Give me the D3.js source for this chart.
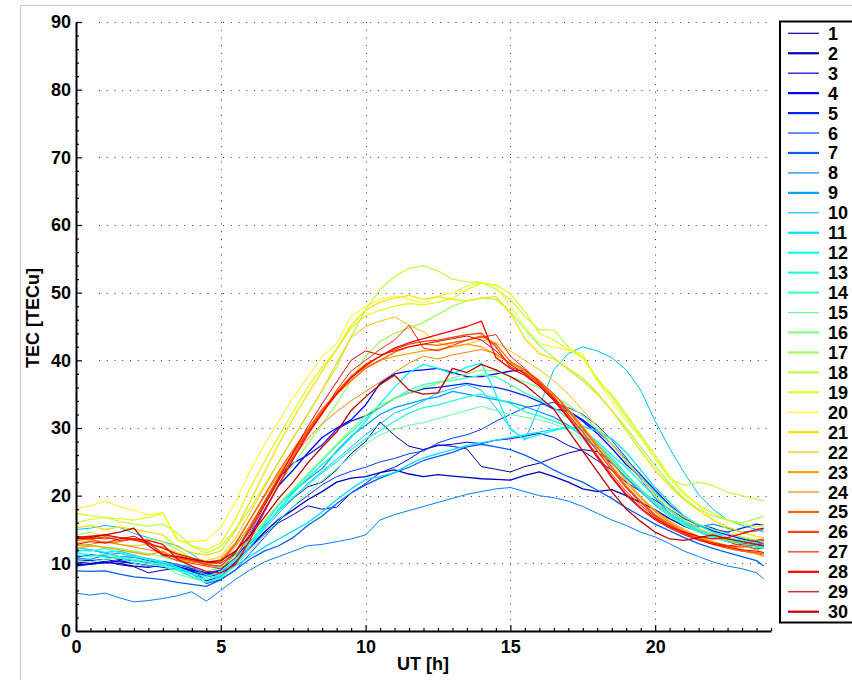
<!DOCTYPE html>
<html lang="en">
<head>
<meta charset="UTF-8">
<title>TEC</title>
<script src="https://d3js.org/d3.v7.min.js"></script>
<style>
    body { margin: 0; padding: 0; background: #fff; }
    svg { display: block; }
    .tick text, .lab, .leg text {
        font-family: "Liberation Sans", Arial, sans-serif;
        font-weight: bold;
        font-size: 18px;
        fill: #000;
    }
    .grid line { stroke: #333; stroke-width: 1; stroke-dasharray: 1, 6.75; }
    .domain { stroke: #000; stroke-width: 2; }
</style>
</head>
<body>
<svg width="852" height="680"></svg>
<script>
// UT hours
var hours = [0, 0.5, 1, 1.5, 2, 2.5, 3, 3.5, 4, 4.5, 5, 5.5, 6, 6.5, 7, 7.5, 8, 8.5, 9, 9.5,
    10, 10.5, 11, 11.5, 12, 12.5, 13, 13.5, 14, 14.5, 15, 15.5, 16, 16.5, 17, 17.5, 18, 18.5, 19, 19.5,
    20, 20.5, 21, 21.5, 22, 22.5, 23, 23.5, 23.75];

// TEC per day [TECu]
var d1 = [10.2, 10.0, 10.3, 9.8, 9.5, 8.6, 9.0, 9.3, 8.8, 8.2, 9.0, 10.8, 13.2, 15.5, 17.8, 19.6, 21.3, 22.0, 23.8, 26.2,
    28.0, 30.9, 28.9, 27.3, 26.8, 27.5, 27.3, 26.9, 24.3, 23.9, 23.5, 24.3, 24.8, 25.6, 26.3, 26.8, 26.5, 24.8, 22.6, 20.8,
    19.0, 17.4, 16.0, 14.8, 13.9, 13.2, 12.6, 12.1, 12.3];
var d2 = [9.8, 9.9, 10.1, 10.0, 9.6, 9.4, 9.8, 9.5, 9.0, 8.5, 8.7, 10.2, 12.4, 14.6, 16.5, 17.9, 19.4, 20.6, 22.0, 22.6,
    22.8, 23.4, 23.8, 23.2, 22.8, 23.1, 22.9, 22.7, 22.5, 22.4, 22.3, 23.0, 23.5, 22.8, 22.0, 21.0, 20.6, 20.9, 20.0, 19.0,
    17.9, 16.6, 15.5, 14.7, 14.0, 13.3, 12.8, 12.5, 12.7];
var d3v = [10.5, 10.4, 10.6, 10.2, 10.0, 9.7, 9.4, 9.1, 8.7, 8.0, 8.4, 10.0, 12.2, 14.3, 16.0, 17.2, 18.5, 18.0, 18.3, 20.4,
    21.8, 23.4, 24.2, 25.4, 26.8, 27.4, 27.6, 27.9, 27.7, 28.2, 28.4, 28.8, 29.2, 28.6, 27.4, 26.6, 25.2, 23.8, 22.0, 20.6,
    19.3, 18.0, 16.6, 15.7, 15.2, 14.4, 13.8, 13.2, 13.4];
var d4 = [9.6, 9.9, 10.1, 10.4, 10.0, 9.6, 9.9, 9.4, 9.0, 7.4, 8.0, 10.3, 14.0, 17.8, 21.5, 23.8, 26.3, 28.6, 30.0, 31.2,
    33.4, 36.6, 38.0, 38.4, 38.6, 38.8, 38.2, 37.6, 37.6, 38.0, 38.4, 38.6, 36.5, 34.2, 32.6, 31.0, 29.2, 27.0, 24.6, 22.8,
    20.4, 18.5, 16.8, 15.6, 14.8, 14.2, 13.6, 13.0, 12.8];
var d5 = [10.9, 11.3, 11.0, 10.6, 10.4, 10.1, 10.3, 9.8, 9.2, 8.6, 9.0, 11.5, 15.2, 19.0, 22.6, 24.8, 26.0, 27.5, 29.8, 31.0,
    31.8, 33.0, 34.4, 35.2, 35.8, 36.0, 36.3, 36.6, 36.2, 36.0, 35.5, 34.8, 33.9, 32.8, 32.5, 31.2, 29.6, 27.6, 25.3, 23.1,
    20.8, 18.6, 16.9, 15.7, 15.0, 14.6, 15.2, 15.8, 15.6];
var d6 = [11.8, 12.0, 11.5, 11.0, 10.9, 10.4, 10.0, 9.6, 8.5, 7.0, 7.6, 9.0, 11.4, 13.8, 16.2, 18.4, 20.0, 21.6, 22.8, 23.6,
    24.2, 25.0, 25.5, 26.2, 26.6, 27.8, 28.5, 29.0, 29.8, 31.0, 32.0, 33.0, 33.4, 33.8, 33.0, 32.0, 30.4, 28.2, 25.6, 22.4,
    19.6, 17.4, 15.8, 14.8, 14.0, 13.6, 13.4, 13.0, 13.2];
var d7 = [8.9, 8.8, 8.9, 8.4, 8.0, 7.8, 7.6, 7.2, 6.9, 6.6, 7.6, 9.0, 10.6, 11.8, 12.6, 13.8, 15.6, 17.0, 18.8, 20.4,
    21.6, 22.6, 23.4, 24.2, 25.2, 25.8, 26.4, 27.2, 27.6, 27.2, 26.8, 26.0, 25.0, 23.8, 22.8, 22.0, 20.8, 19.6, 18.2, 17.0,
    15.8, 14.8, 13.8, 12.9, 12.2, 11.6, 11.0, 10.4, 9.6];
var d8 = [5.6, 5.3, 5.6, 4.9, 4.3, 4.5, 4.8, 5.2, 5.8, 4.4, 6.0, 7.6, 9.0, 10.2, 11.0, 11.8, 12.6, 12.8, 13.2, 13.6,
    14.2, 16.4, 17.2, 17.8, 18.4, 19.0, 19.6, 20.2, 20.6, 21.0, 21.2, 20.6, 20.0, 19.7, 19.2, 18.4, 17.4, 16.4, 15.6, 14.6,
    13.9, 12.9, 11.8, 11.0, 10.2, 9.6, 9.2, 8.6, 7.7];
var d9 = [10.8, 10.6, 11.2, 11.5, 11.0, 10.7, 10.2, 9.8, 9.5, 8.2, 8.6, 10.4, 13.0, 15.8, 18.6, 20.6, 22.4, 24.0, 26.6, 28.8,
    30.4, 32.0, 33.0, 33.6, 34.2, 34.6, 35.4, 35.0, 34.6, 34.2, 33.8, 33.2, 32.4, 31.6, 30.4, 28.8, 27.0, 25.0, 22.6, 20.6,
    18.6, 17.0, 16.0, 15.4, 15.8, 15.2, 14.6, 14.8, 15.0];
var d10 = [15.0, 15.2, 15.6, 15.3, 14.4, 13.8, 13.2, 12.6, 11.4, 9.8, 9.4, 10.6, 12.8, 15.0, 17.4, 19.6, 21.8, 23.6, 25.4, 27.2,
    29.0, 30.6, 32.2, 33.0, 34.0, 35.2, 35.8, 36.4, 35.6, 33.0, 30.0, 28.2, 33.2, 38.6, 41.0, 42.0, 41.4, 40.4, 38.6, 35.6,
    31.0, 27.0, 23.4, 20.2, 18.0, 16.4, 15.6, 15.0, 14.6];
var d11 = [12.4, 12.0, 11.6, 11.8, 11.2, 10.6, 10.0, 9.2, 8.4, 7.6, 8.2, 9.6, 11.0, 12.4, 13.6, 14.8, 16.0, 17.6, 19.4, 21.0,
    22.4, 22.8, 23.4, 24.6, 25.6, 26.2, 26.8, 27.4, 27.8, 28.2, 28.6, 29.0, 29.4, 29.8, 30.0, 30.2, 29.6, 28.4, 26.4, 23.8,
    21.2, 19.0, 17.0, 15.6, 14.6, 13.8, 13.0, 12.4, 12.2];
var d12 = [11.6, 11.2, 11.0, 10.8, 10.4, 10.0, 9.6, 9.0, 8.0, 7.2, 7.8, 9.8, 12.4, 15.2, 18.0, 20.4, 22.6, 24.6, 26.4, 28.6,
    31.0, 33.6, 36.0, 38.2, 39.4, 38.8, 38.0, 39.0, 39.6, 35.0, 29.8, 28.4, 29.0, 29.6, 30.2, 29.6, 28.0, 26.0, 24.2, 22.0,
    19.8, 17.8, 16.2, 15.0, 14.2, 13.6, 13.4, 13.0, 12.8];
var d13 = [12.0, 11.8, 12.2, 11.6, 11.0, 10.6, 10.2, 9.4, 8.6, 8.0, 8.8, 10.6, 13.0, 15.4, 17.8, 19.8, 21.6, 23.4, 25.0, 26.8,
    28.4, 29.6, 31.0, 32.2, 33.0, 33.4, 34.0, 34.6, 35.0, 34.4, 33.6, 32.4, 31.8, 31.0, 30.2, 29.0, 27.6, 25.6, 23.2, 21.0,
    19.0, 17.2, 15.8, 14.8, 14.0, 13.4, 13.0, 12.6, 12.4];
var d14 = [11.2, 11.0, 11.4, 11.0, 10.6, 10.2, 9.8, 9.2, 8.0, 7.6, 8.4, 10.4, 13.0, 15.8, 18.6, 20.8, 23.0, 25.2, 27.4, 29.4,
    31.4, 33.0, 34.4, 35.6, 36.4, 36.8, 37.0, 37.4, 37.8, 37.6, 36.4, 35.2, 34.2, 33.0, 31.4, 29.6, 27.6, 25.4, 23.0, 20.8,
    18.8, 17.0, 15.6, 14.6, 13.8, 13.2, 12.8, 12.4, 12.2];
var d15 = [10.4, 10.2, 10.6, 10.8, 10.0, 9.6, 9.8, 8.4, 7.8, 7.2, 8.0, 9.6, 11.8, 14.0, 16.4, 18.4, 20.4, 22.2, 24.0, 25.8,
    27.6, 29.0, 29.8, 30.4, 30.8, 31.4, 32.0, 32.6, 33.2, 32.6, 32.0, 31.6, 31.2, 30.6, 29.6, 28.4, 27.0, 25.2, 23.0, 21.0,
    19.0, 17.4, 16.0, 15.0, 14.4, 13.8, 13.4, 13.0, 12.8];
var d16 = [12.8, 12.6, 12.4, 12.2, 11.8, 11.4, 11.0, 10.4, 9.6, 8.8, 9.4, 11.2, 13.6, 16.2, 18.8, 21.0, 23.2, 25.4, 27.6, 29.8,
    31.8, 33.4, 34.4, 35.2, 36.0, 36.6, 37.4, 38.0, 38.6, 38.4, 37.6, 36.8, 36.0, 34.8, 33.4, 31.8, 29.8, 27.6, 25.2, 22.8,
    20.4, 18.4, 16.8, 15.8, 15.0, 14.4, 13.8, 13.4, 13.2];
var d17 = [14.2, 14.6, 14.0, 13.8, 13.4, 13.6, 13.2, 12.0, 10.8, 9.6, 10.4, 12.6, 15.4, 18.6, 21.8, 24.6, 27.6, 30.6, 33.6, 37.0,
    40.6, 42.8, 44.0, 44.8, 45.6, 46.8, 48.0, 48.8, 49.2, 49.0, 47.2, 44.6, 42.2, 40.4, 38.6, 37.0, 35.0, 32.6, 30.0, 27.2,
    24.4, 21.8, 19.6, 18.0, 17.0, 16.4, 16.0, 16.6, 17.0];
var d18 = [16.0, 16.5, 16.8, 16.2, 15.8, 15.5, 15.8, 14.5, 12.5, 11.5, 12.5, 15.0, 18.0, 21.5, 25.0, 28.5, 32.0, 35.5, 39.0, 43.5,
    47.5, 50.5, 52.4, 53.6, 54.0, 53.2, 52.0, 51.6, 51.5, 50.5, 49.0, 46.5, 44.5, 44.5, 42.0, 40.5, 37.0, 35.0, 32.0, 29.0,
    26.0, 22.5, 21.5, 22.0, 21.5, 20.5, 20.0, 19.5, 19.2];
var d19 = [17.4, 17.0, 16.8, 16.6, 16.4, 16.8, 17.4, 13.6, 12.6, 12.0, 13.0, 16.5, 21.0, 25.0, 28.8, 32.4, 36.0, 39.0, 41.6, 44.8,
    46.6, 47.4, 48.0, 48.4, 48.2, 48.6, 49.2, 50.4, 51.4, 51.2, 49.8, 47.2, 44.0, 43.0, 41.6, 40.4, 37.4, 34.6, 31.6, 28.6,
    25.4, 22.6, 20.2, 18.6, 17.4, 16.4, 15.8, 15.4, 15.6];
var d20 = [18.1, 18.5, 19.2, 18.4, 17.8, 17.2, 17.5, 13.3, 13.2, 13.4, 15.3, 19.0, 23.5, 27.5, 31.0, 34.5, 37.5, 40.5, 42.5, 46.5,
    48.0, 49.0, 49.5, 49.0, 48.5, 49.5, 50.0, 51.0, 51.5, 51.0, 48.0, 45.0, 42.5, 42.0, 41.5, 41.0, 37.0, 34.0, 31.0, 28.5,
    26.0, 23.0, 20.5, 18.5, 16.5, 15.0, 14.0, 13.5, 13.5];
var d21 = [15.2, 15.6, 15.0, 15.4, 15.0, 14.6, 14.2, 12.4, 11.6, 11.2, 11.8, 14.8, 19.0, 23.4, 27.6, 31.4, 35.0, 38.4, 41.6, 45.2,
    47.4, 48.6, 49.2, 49.6, 49.0, 49.4, 49.0, 48.8, 49.2, 49.4, 47.0, 43.2, 41.0, 40.2, 38.8, 37.4, 35.2, 32.6, 29.6, 26.6,
    23.8, 21.4, 19.4, 17.8, 16.4, 15.4, 14.6, 14.0, 13.8];
var d22 = [13.0, 13.4, 13.2, 12.8, 12.6, 12.8, 12.4, 11.6, 10.8, 10.4, 11.0, 13.6, 17.4, 21.2, 25.0, 28.6, 32.0, 35.6, 39.6, 43.4,
    45.0, 45.8, 46.4, 45.2, 44.2, 42.6, 42.0, 42.4, 43.0, 42.6, 41.4, 40.0, 38.6, 37.0, 35.0, 32.6, 30.2, 27.6, 25.0, 22.4,
    20.0, 18.0, 16.4, 15.2, 14.2, 13.4, 12.6, 12.0, 11.6];
var d23 = [12.2, 12.6, 12.4, 12.0, 11.6, 11.2, 11.8, 10.6, 10.2, 10.0, 10.6, 13.0, 16.4, 19.8, 23.2, 26.4, 29.6, 32.6, 35.4, 37.6,
    39.0, 40.0, 40.6, 41.0, 41.4, 41.6, 42.0, 42.4, 42.0, 40.8, 39.6, 38.4, 36.8, 35.0, 32.8, 30.2, 27.6, 25.0, 22.2, 19.8,
    17.8, 16.2, 15.0, 14.0, 13.2, 12.6, 12.0, 11.4, 11.2];
var d24 = [12.6, 12.8, 13.2, 12.8, 12.4, 12.0, 11.6, 10.8, 10.4, 9.8, 10.2, 12.4, 15.6, 19.0, 22.4, 25.6, 28.4, 30.6, 32.4, 34.0,
    35.4, 36.8, 38.2, 39.6, 40.6, 40.2, 40.8, 41.2, 41.6, 41.0, 39.4, 38.0, 36.4, 34.4, 32.4, 29.8, 27.2, 24.4, 21.8, 19.6,
    17.6, 16.0, 14.8, 13.8, 13.0, 12.4, 11.8, 11.4, 11.0];
var d25 = [13.4, 13.6, 13.0, 13.2, 13.6, 12.8, 12.4, 11.2, 10.6, 10.0, 10.2, 12.8, 16.4, 20.0, 23.6, 26.8, 29.8, 32.8, 35.0, 37.0,
    38.8, 40.0, 41.2, 42.0, 42.4, 42.2, 42.6, 43.0, 43.6, 42.4, 39.8, 38.6, 37.0, 35.0, 32.6, 30.0, 27.2, 24.2, 21.4, 19.2,
    17.2, 15.8, 14.6, 13.6, 12.8, 12.2, 11.8, 11.6, 11.4];
var d26 = [13.8, 13.6, 13.9, 13.4, 13.6, 13.2, 11.4, 10.8, 10.4, 9.8, 9.6, 11.6, 15.2, 19.0, 22.8, 26.2, 29.4, 32.4, 35.2, 37.6,
    39.4, 40.6, 41.6, 42.4, 42.8, 43.0, 43.4, 43.8, 44.0, 42.0, 39.0, 38.2, 36.6, 34.6, 32.0, 29.4, 26.6, 23.8, 21.2, 19.0,
    17.0, 15.6, 14.4, 13.6, 13.0, 12.6, 12.4, 12.8, 13.0];
var d27 = [14.0, 13.8, 13.6, 13.8, 13.4, 13.0, 11.2, 10.4, 10.0, 9.6, 9.2, 10.8, 14.4, 18.4, 22.2, 25.8, 29.2, 32.0, 35.6, 38.4,
    40.0, 41.6, 43.0, 45.2, 41.8, 41.4, 42.2, 43.0, 43.4, 43.8, 40.6, 38.8, 36.8, 34.4, 31.6, 28.8, 26.0, 23.2, 20.6, 18.6,
    16.8, 15.4, 14.4, 13.6, 13.0, 12.6, 12.8, 13.4, 13.6];
var d28 = [13.8, 14.0, 14.2, 13.8, 13.6, 13.4, 12.8, 10.6, 9.6, 8.8, 8.6, 9.8, 13.4, 17.6, 21.6, 25.4, 29.0, 32.2, 35.0, 37.4,
    39.2, 40.6, 41.8, 42.6, 43.2, 43.8, 44.4, 45.0, 45.8, 40.4, 38.8, 37.8, 36.2, 34.2, 31.6, 28.8, 25.8, 22.8, 20.2, 18.2,
    16.6, 15.4, 14.6, 14.0, 13.6, 13.8, 14.4, 15.0, 15.2];
var d29 = [12.8, 13.2, 13.0, 13.6, 14.0, 13.0, 12.2, 11.4, 10.8, 10.2, 10.0, 11.6, 14.8, 18.6, 22.4, 26.4, 30.2, 33.6, 36.8, 40.0,
    41.4, 40.8, 41.4, 42.0, 42.4, 42.8, 43.2, 43.6, 43.0, 41.4, 39.4, 38.0, 36.2, 34.0, 31.4, 28.6, 25.6, 22.6, 20.0, 18.0,
    16.4, 15.2, 14.2, 13.4, 12.8, 12.4, 12.0, 11.8, 11.6];
var d30 = [13.6, 13.8, 14.2, 14.6, 15.2, 12.6, 11.2, 11.0, 10.6, 10.2, 10.4, 11.8, 14.0, 16.8, 19.6, 22.0, 24.8, 27.2, 29.4, 32.6,
    34.6, 36.4, 37.8, 35.6, 35.0, 35.2, 38.8, 38.2, 39.4, 38.6, 37.6, 36.4, 34.6, 32.8, 29.6, 26.6, 23.6, 20.6, 18.0, 16.2,
    14.6, 13.6, 13.4, 13.8, 14.2, 13.6, 13.2, 12.8, 12.6];

var days = [d1, d2, d3v, d4, d5, d6, d7, d8, d9, d10, d11, d12, d13, d14, d15,
    d16, d17, d18, d19, d20, d21, d22, d23, d24, d25, d26, d27, d28, d29, d30];
var dayLabels = ["1", "2", "3", "4", "5", "6", "7", "8", "9", "10", "11", "12", "13", "14", "15",
    "16", "17", "18", "19", "20", "21", "22", "23", "24", "25", "26", "27", "28", "29", "30"];

// jet(30)
var jet = ["#0000a0", "#0000bf", "#0000df", "#0000ff", "#0020ff", "#0040ff", "#0060ff", "#0080ff", "#00a0ff", "#00bfff",
    "#00dfff", "#00ffff", "#20ffdf", "#40ffbf", "#60ffa0", "#80ff80", "#a0ff60", "#bfff40", "#dfff20", "#ffff00",
    "#ffdf00", "#ffbf00", "#ffa000", "#ff8000", "#ff6000", "#ff4000", "#ff2000", "#ff0000", "#df0000", "#bf0000"];
var lineW = [1, 2, 1, 2, 2, 1, 2, 1, 2, 1, 2, 2, 2, 2, 1, 2, 2, 2, 2, 1, 2, 1, 2, 1, 2, 2, 1, 2, 1, 2];

var xTicks = [0, 5, 10, 15, 20];
var yTicks = [0, 10, 20, 30, 40, 50, 60, 70, 80, 90];

var svg = d3.select("svg");

// figure frame
svg.append("line").attr("x1", 20.5).attr("x2", 20.5).attr("y1", 5).attr("y2", 680).attr("stroke", "#c8c8c8");
svg.append("line").attr("x1", 20).attr("x2", 852).attr("y1", 5.5).attr("y2", 5.5).attr("stroke", "#c8c8c8");

var x = d3.scaleLinear().domain([0, 24]).range([76, 771]);
var y = d3.scaleLinear().domain([0, 90]).range([631, 22]);

// dotted grid
var grid = svg.append("g").attr("class", "grid");
grid.selectAll(".gy").data(yTicks.slice(1)).enter().append("line")
    .attr("x1", x(0) + 23).attr("x2", x(24))
    .attr("y1", function(d) { return Math.round(y(d)) + 0.5; })
    .attr("y2", function(d) { return Math.round(y(d)) + 0.5; });
grid.selectAll(".gx").data(xTicks.slice(1)).enter().append("line")
    .attr("y1", y(90)).attr("y2", y(0))
    .attr("x1", function(d) { return Math.round(x(d)) + 0.5; })
    .attr("x2", function(d) { return Math.round(x(d)) + 0.5; });

// curves
var line = d3.line()
    .x(function(d, i) { return x(hours[i]); })
    .y(function(d) { return y(d); });

svg.append("g").selectAll("path").data(days).enter().append("path")
    .attr("d", line)
    .attr("fill", "none")
    .attr("stroke", function(d, i) { return jet[i]; })
    .attr("stroke-width", function(d, i) { return lineW[i] == 2 ? 1.3 : 1; })
    .attr("stroke-linejoin", "round");

// axes
svg.append("g").attr("transform", "translate(76,0)")
    .call(d3.axisLeft(y).tickValues(yTicks).tickSizeInner(-6).tickSizeOuter(0).tickPadding(5));
svg.append("g").attr("transform", "translate(76,0)")
    .call(d3.axisLeft(y).tickValues(d3.range(2, 90, 2).filter(function(v) { return v % 10; }))
        .tickSizeInner(-3).tickSizeOuter(0).tickFormat(""))
    .select(".domain").remove();

svg.append("g").attr("transform", "translate(0,631)")
    .call(d3.axisBottom(x).tickValues(xTicks).tickSizeInner(-6).tickSizeOuter(0).tickPadding(9));
svg.append("g").attr("transform", "translate(0,631)")
    .call(d3.axisBottom(x).tickValues(d3.range(0.5, 24.01, 0.5).filter(function(v) { return v % 5; }))
        .tickSizeInner(-3).tickSizeOuter(0).tickFormat(""))
    .select(".domain").remove();

svg.selectAll(".tick line").attr("stroke", "#000").attr("stroke-width", 1.2);

svg.append("text").attr("class", "lab")
    .attr("x", 423).attr("y", 670).attr("text-anchor", "middle").text("UT [h]");
svg.append("text").attr("class", "lab")
    .attr("transform", "translate(39,318) rotate(-90)")
    .attr("text-anchor", "middle").text("TEC [TECu]");

// legend
var leg = svg.append("g").attr("class", "leg");
leg.append("rect").attr("x", 780).attr("y", 21.5).attr("width", 90).attr("height", 601)
    .attr("fill", "#fff").attr("stroke", "#000").attr("stroke-width", 2);

var row = d3.scaleLinear().domain([0, 29]).range([33.3, 611.7]);
var items = leg.selectAll(".item").data(dayLabels).enter().append("g")
    .attr("transform", function(d, i) { return "translate(0," + row(i) + ")"; });
items.append("line").attr("x1", 788).attr("x2", 819)
    .attr("stroke", function(d, i) { return jet[i]; })
    .attr("stroke-width", function(d, i) { return lineW[i] == 2 ? 2.2 : 1.2; });
items.append("text").attr("x", 828).attr("dy", "0.36em").text(function(d) { return d; });
</script>
</body>
</html>
